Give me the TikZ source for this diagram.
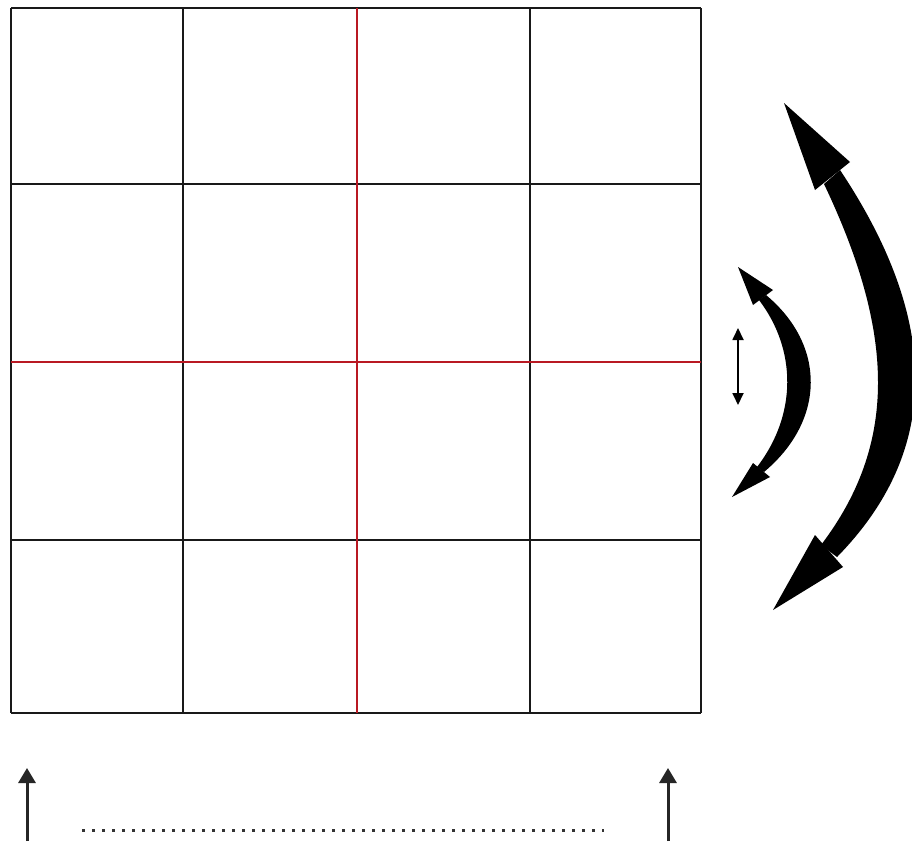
\documentclass[tikz,border=0pt]{standalone}
\usetikzlibrary{arrows.meta}
\definecolor{gridred}{RGB}{185,25,35}
\definecolor{gridblack}{RGB}{25,25,25}
\tikzset{
  gridline/.style={draw=gridblack, line width=1.5pt},
  redline/.style={draw=gridred, line width=1.3pt},
  blackfill/.style={fill=black, draw=none},
  uparrow/.style={draw=black!85, line width=3pt, -{Triangle[length=15pt,width=17pt]}},
  tinyarrow/.style={draw=black, line width=1.8pt, {Triangle[length=12pt,width=11pt]}-{Triangle[length=12pt,width=11pt]}},
  dottedrule/.style={draw=black!80, line width=3pt, dash pattern=on 3pt off 7pt}
}
\begin{document}
\begin{tikzpicture}[x=1pt,y=-1pt]
\useasboundingbox[fill=white] (0,0) rectangle (912,841);
% grid
\foreach \x in {11,183,530,701} \draw[gridline] (\x,8) -- (\x,713);
\foreach \y in {8,184,540,713} \draw[gridline] (11,\y) -- (701,\y);
\draw[redline] (357,8) -- (357,713);
\draw[redline] (11,362) -- (701,362);
% big curved double arrow
\coordinate (bt) at (784,103);
\coordinate (bb) at (773,610);
\fill[blackfill] (bt) -- (850,162) -- (815,190) -- cycle;
\fill[blackfill] (bb) -- (815,535) -- (843,567) -- cycle;
\fill[blackfill] (840,170) .. controls (940,320) and (942,450) .. (837,557)
  -- (821,545) .. controls (897,445) and (896,335) .. (824,184) -- cycle;
% small curved double arrow
\coordinate (st) at (738,267);
\coordinate (sb) at (732,497);
\fill[blackfill] (st) -- (773,290) -- (753,305) -- cycle;
\fill[blackfill] (sb) -- (753,463) -- (770,477) -- cycle;
\fill[blackfill] (766,295) .. controls (826,345) and (826,420) .. (764,472)
  -- (757,467) .. controls (797,415) and (797,350) .. (759,300) -- cycle;
% tiny double arrow
\coordinate (tt) at (738,328);
\coordinate (tb) at (738,405);
\draw[tinyarrow] (tb) -- (tt);
% bottom arrows and dotted rule
\coordinate (la) at (27,841);
\coordinate (lt) at (27,768);
\coordinate (ra) at (668,841);
\coordinate (rt) at (668,768);
\draw[uparrow] (la) -- (lt);
\draw[uparrow] (ra) -- (rt);
\coordinate (d1) at (82,830);
\coordinate (d2) at (604,830);
\draw[dottedrule] (d1) -- (d2);
\end{tikzpicture}
\end{document}
